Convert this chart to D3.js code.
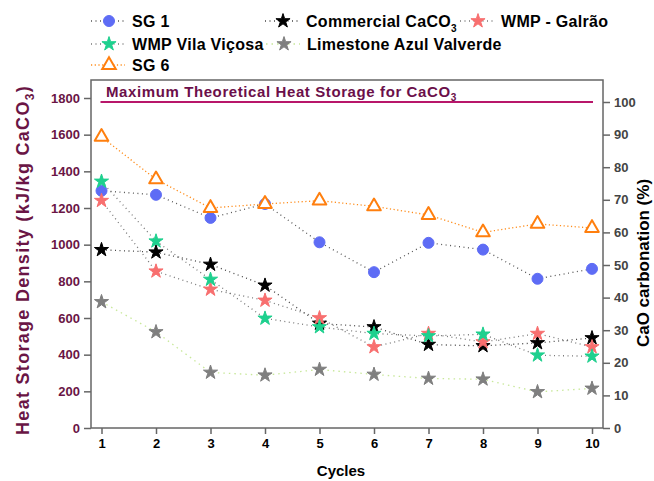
<html>
<head>
<meta charset="UTF-8"/>
<script src="https://d3js.org/d3.v7.min.js"></script>
<style>
body{margin:0;background:#fff;}
svg{font-family:'Liberation Sans',Arial,sans-serif;font-weight:bold;}
.axis path,.axis line{stroke:#666;stroke-width:1.5;}
</style>
</head>
<body>
<svg id='chart' width=654 height=481></svg>
<script>
'use strict';
var cycles = [1,2,3,4,5,6,7,8,9,10];
var sg1        = [1294,1272,1146,1222,1013,850,1010,973,814,868];
var commercial = [972,959,892,778,570,551,455,448,464,491];
var galrao     = [1240,855,756,696,600,442,515,469,515,442];
var vilaVicosa = [1345,1019,810,598,551,515,502,511,397,391];
var limestone  = [688,524,303,288,319,292,270,266,197,216];
var sg6        = [1588,1356,1200,1222,1240,1209,1162,1067,1113,1091];
var leftTicks  = [0,200,400,600,800,1000,1200,1400,1600,1800];
var rightTicks = [0,10,20,30,40,50,60,70,80,90,100];
var maxCarbonation = 100;

var series = [
  {name:'SG 1', data:sg1, sym:'circle', fill:'#5e6cf5', line:'#555', dash:'1,3.5'},
  {name:'Commercial CaCO', sub:'3', data:commercial, sym:'star', fill:'#000', line:'#444', dash:'1,3.5'},
  {name:'WMP - Galrão', data:galrao, sym:'star', fill:'#f86f6f', line:'#777', dash:'1,3.5'},
  {name:'WMP Vila Viçosa', data:vilaVicosa, sym:'star', fill:'#1ed08e', line:'#777', dash:'1,3.5'},
  {name:'Limestone Azul Valverde', data:limestone, sym:'star', fill:'#7f7f7f', line:'#c8e89a', dash:'1.5,4'},
  {name:'SG 6', data:sg6, sym:'triangle', fill:'#fff', stroke:'#ff7f0e', line:'#ff8c1a', dash:'1.2,2.5'}
];

var svg = d3.select('#chart');
var L = 91, R = 603, T = 80, B = 428;

var sx = d3.scaleLinear().domain([1,10]).range([101.5,592]);
var sy = d3.scaleLinear().domain([0,1800]).range([B,98]);
var sy2 = d3.scaleLinear().domain([0,100]).range([B,102]);

// frame
svg.append('rect').attr('x',L).attr('y',T).attr('width',R-L).attr('height',B-T)
  .attr('fill','none').attr('stroke','#666').attr('stroke-width',1.5);

var xAxis = svg.append('g').attr('class','axis').attr('transform','translate(0,'+B+')')
  .call(d3.axisBottom(sx).tickValues(cycles).tickSize(6).tickPadding(5));
xAxis.select('.domain').remove();
xAxis.selectAll('text').attr('fill','#000').style('font-size','13px').style('font-weight','bold');

var yAxis = svg.append('g').attr('class','axis').attr('transform','translate('+L+',0)')
  .call(d3.axisLeft(sy).tickValues(leftTicks).tickFormat(d3.format('d')).tickSize(7).tickPadding(4));
yAxis.select('.domain').remove();
yAxis.selectAll('text').attr('fill','#6a1545').style('font-size','13px').style('font-weight','bold');

var yAxis2 = svg.append('g').attr('class','axis').attr('transform','translate('+R+',0)')
  .call(d3.axisRight(sy2).tickValues(rightTicks).tickSize(7).tickPadding(4));
yAxis2.select('.domain').remove();
yAxis2.selectAll('text').attr('fill','#444').style('font-size','13px').style('font-weight','bold');

// maximum theoretical line
svg.append('line').attr('x1',sx(1)-1).attr('x2',sx(10)+1)
  .attr('y1',sy2(maxCarbonation)).attr('y2',sy2(maxCarbonation))
  .attr('stroke','#b8176a').attr('stroke-width',2);
var mt = svg.append('text').attr('x',106).attr('y',97).attr('fill','#6b0f4a')
  .style('font-size','15px').style('letter-spacing','0.6px').text('Maximum Theoretical Heat Storage for CaCO');
mt.append('tspan').attr('dy',4).style('font-size','10px').text('3');

function symbolFor(s){
  if(s.sym==='circle') return d3.symbol().type(d3.symbolCircle).size(95)();
  if(s.sym==='triangle') return d3.symbol().type(d3.symbolTriangle).size(80)();
  return d3.symbol().type(d3.symbolStar).size(62)();
}

var line = d3.line().x(function(d,i){return sx(cycles[i]);}).y(function(d){return sy(d);});

series.forEach(function(s){
  svg.append('path').datum(s.data).attr('d',line).attr('fill','none')
    .attr('stroke',s.line).attr('stroke-width',1.3).attr('stroke-dasharray',s.dash);
});
series.forEach(function(s){
  svg.selectAll(null).data(s.data).enter().append('path')
    .attr('d',symbolFor(s))
    .attr('transform',function(d,i){return 'translate('+sx(cycles[i])+','+sy(d)+')';})
    .attr('fill',s.fill)
    .attr('stroke',s.stroke||s.fill)
    .attr('stroke-width',s.stroke?2:1)
    .attr('stroke-linejoin','round');
});

// legend
var legendPos = [[109,21],[283,21],[478,21],[109,44],[284,44],[109,65]];
series.forEach(function(s,i){
  var g = svg.append('g').attr('transform','translate('+legendPos[i][0]+','+legendPos[i][1]+')');
  g.append('line').attr('x1',-18).attr('x2',16).attr('y1',0).attr('y2',0)
    .attr('stroke',s.line).attr('stroke-width',1.3).attr('stroke-dasharray',s.dash);
  g.append('path').attr('d',symbolFor(s)).attr('fill',s.fill)
    .attr('stroke',s.stroke||s.fill).attr('stroke-width',s.stroke?2:1);
  var t = g.append('text').attr('x',23).attr('y',6).attr('fill','#000')
    .style('font-size','16px').style('letter-spacing','0.3px').text(s.name);
  if(s.sub) t.append('tspan').attr('dy',5).style('font-size','10px').text(s.sub);
});

// axis titles
svg.append('text').attr('x',(L+R)/2-6).attr('y',476).attr('text-anchor','middle')
  .style('font-size','15px').attr('fill','#000').text('Cycles');

var lt = svg.append('text').attr('transform','translate(29,260) rotate(-90)')
  .attr('text-anchor','middle').attr('fill','#6a1545').style('font-size','18px')
  .style('letter-spacing','1.3px')
  .text('Heat Storage Density (kJ/kg CaCO');
lt.append('tspan').attr('dy',5).style('font-size','12px').text('3');
lt.append('tspan').attr('dy',-5).text(')');

svg.append('text').attr('transform','translate(649,263) rotate(-90)')
  .attr('text-anchor','middle').attr('fill','#000').style('font-size','17px')
  .text('CaO carbonation (%)');
</script>
</body>
</html>
